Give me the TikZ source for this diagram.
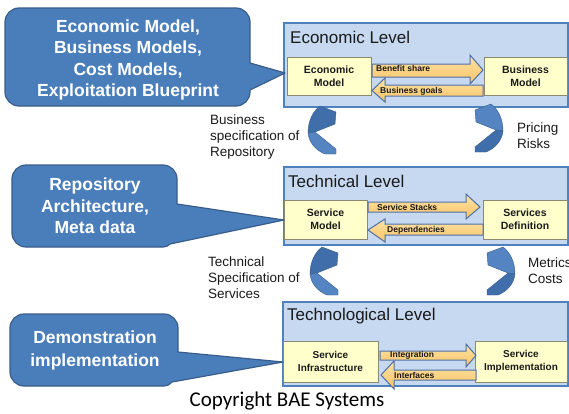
\documentclass[tikz,border=0pt]{standalone}
\usepackage{fontspec}
\setmainfont{Liberation Sans}
\newfontfamily\califont{Carlito}
\definecolor{calloutfill}{HTML}{4A7EBB}
\definecolor{calloutline}{HTML}{385D8A}
\definecolor{levelfill}{HTML}{C6D9F1}
\definecolor{levelline}{HTML}{4F81BD}
\definecolor{boxfill}{HTML}{FFFFCC}
\definecolor{boxline}{HTML}{8A8A70}
\definecolor{arrowtop}{HTML}{FDE3A8}
\definecolor{arrowbot}{HTML}{F8C363}
\definecolor{arrowline}{HTML}{4F6FA8}
\definecolor{cresA}{HTML}{3F6EAA}
\definecolor{cresB}{HTML}{5485C2}
\definecolor{labeltext}{HTML}{1A1A1A}
\tikzset{
  callout/.style={fill=calloutfill, draw=calloutline, line width=1.2pt, line join=round},
  callouttext/.style={text=white, font=\fontsize{17.5}{21.5}\selectfont\bfseries, align=center, inner sep=0pt},
  levelbox/.style={fill=levelfill, draw=levelline, line width=1.5pt, anchor=north west, inner sep=0pt},
  leveltitle/.style={font=\fontsize{17}{20}\selectfont, anchor=west, inner sep=0pt, text=labeltext},
  innerbox/.style={fill=boxfill, draw=boxline, line width=0.9pt, inner sep=0pt, align=center, text=labeltext, font=\fontsize{10.5}{13}\selectfont\bfseries},
  blockarrow/.style={top color=arrowtop, bottom color=arrowbot, draw=arrowline, line width=1pt, line join=miter},
  arrowlabel/.style={font=\fontsize{8.5}{9}\selectfont\bfseries, anchor=west, inner sep=0pt, text=labeltext},
  sidelabel/.style={font=\fontsize{13.5}{16}\selectfont, align=left, anchor=west, inner sep=0pt, text=labeltext},
  pics/crescent/.style 2 args={code={
    \fill[#1, draw=calloutline, line width=0.4pt] (14,2) .. controls (7,7) and (2,17) .. (2,29) -- (9,28) -- (29,20) -- (30,8) -- cycle;
    \fill[#2, draw=calloutline, line width=0.4pt] (2,29) -- (9,28) -- (30,45) -- (30,50) -- (19,50) .. controls (9,46) and (3,38) .. (2,29) -- cycle;
  }}
}
\begin{document}
\begin{tikzpicture}[x=1pt, y=-1pt]
\useasboundingbox (0,0) rectangle (569,413);
\fill[white] (0,0) rectangle (569,413);

% ---------- level boxes ----------
\node[levelbox, minimum width=284pt, minimum height=84pt] (L1) at (283,22) {};
\node[levelbox, minimum width=284pt, minimum height=78pt] (L2) at (283,166) {};
\node[levelbox, minimum width=285pt, minimum height=84pt] (L3) at (282,301) {};

\node[leveltitle] (t1) at (290,37) {Economic Level};
\node[leveltitle] (t2) at (288,181) {Technical Level};
\node[leveltitle] (t3) at (287,316) {Technological Level};

% ---------- inner boxes ----------
\node[innerbox, minimum width=84pt, minimum height=38pt] (em) at (329,76) {Economic\\Model};
\node[innerbox, minimum width=83pt, minimum height=38pt] (bm) at (525.5,76) {Business\\Model};
\node[innerbox, minimum width=83pt, minimum height=39pt] (sm) at (325.5,219.5) {Service\\Model};
\node[innerbox, minimum width=84pt, minimum height=39pt] (sd) at (525,219.5) {Services\\Definition};
\node[innerbox, minimum width=95pt, minimum height=41pt, font=\fontsize{10}{13}\selectfont\bfseries] (si) at (330.5,361.5) {Service\\Infrastructure};
\node[innerbox, minimum width=92pt, minimum height=41pt, font=\fontsize{10}{13}\selectfont\bfseries] (sp) at (521,361.5) {Service\\Implementation};

% ---------- block arrows ----------
\path[blockarrow] (372,64) -- (470,64) -- (470,55) -- (483,70) -- (470,84) -- (470,77) -- (372,77) -- cycle;
\path[blockarrow] (483,85) -- (385,85) -- (385,78) -- (372,90.5) -- (385,102) -- (385,96) -- (483,96) -- cycle;
\path[blockarrow] (368,202) -- (466,202) -- (466,194) -- (480,207) -- (466,219) -- (466,212) -- (368,212) -- cycle;
\path[blockarrow] (483,224) -- (385,224) -- (385,219) -- (368,230) -- (385,242) -- (385,235) -- (483,235) -- cycle;
\path[blockarrow] (380,351) -- (466,351) -- (466,344) -- (476,355.5) -- (466,367) -- (466,360) -- (380,360) -- cycle;
\path[blockarrow] (476,370) -- (394,370) -- (394,361) -- (381,375) -- (394,389) -- (394,380) -- (476,380) -- cycle;

\node[arrowlabel] (a1) at (376,68) {Benefit share};
\node[arrowlabel] (a2) at (380,91) {Business goals};
\node[arrowlabel] (a3) at (377,207) {Service Stacks};
\node[arrowlabel] (a4) at (387,230) {Dependencies};
\node[arrowlabel] (a5) at (390,355) {Integration};
\node[arrowlabel] (a6) at (394,375) {Interfaces};

% ---------- callouts ----------
\path[callout] (19,8) -- (236,8) .. controls (243.7,8) and (250,14.3) .. (250,22) -- (250,63) -- (285,73) -- (250,90) -- (250,92) .. controls (250,99.7) and (243.7,106) .. (236,106) -- (19,106) .. controls (11.3,106) and (5,99.7) .. (5,92) -- (5,22) .. controls (5,14.3) and (11.3,8) .. (19,8) -- cycle;
\path[callout] (26,165) -- (163,165) .. controls (170.7,165) and (177,171.3) .. (177,179) -- (177,204) -- (284,220) -- (170,244) .. controls (168,246) and (166,247) .. (163,247) -- (26,247) .. controls (18.3,247) and (12,240.7) .. (12,233) -- (12,179) .. controls (12,171.3) and (18.3,165) .. (26,165) -- cycle;
\path[callout] (24,314) -- (164,314) .. controls (171.7,314) and (178,320.3) .. (178,328) -- (178,352) -- (283,362) -- (172,382) .. controls (170,384.5) and (167,386) .. (164,386) -- (24,386) .. controls (16.3,386) and (10,379.7) .. (10,372) -- (10,328) .. controls (10,320.3) and (16.3,314) .. (24,314) -- cycle;

\node[callouttext] (c1) at (128,60) {Economic Model,\\Business Models,\\Cost Models,\\Exploitation Blueprint};
\node[callouttext] (c2) at (95,206) {Repository\\Architecture,\\Meta data};
\node[callouttext, font=\fontsize{17.5}{23}\selectfont\bfseries] (c3) at (95,350) {Demonstration\\implementation};

% ---------- crescents ----------
\pic at (306,104) {crescent={cresA}{cresB}};
\pic[xscale=-1] at (505,102) {crescent={cresB}{cresA}};
\pic at (308,245) {crescent={cresA}{cresB}};
\pic[xscale=-1] at (517,245) {crescent={cresB}{cresA}};

% ---------- side labels ----------
\node[sidelabel] (s1) at (210,137) {Business\\specification of\\Repository};
\node[sidelabel] (s2) at (517,136) {Pricing\\Risks};
\node[sidelabel] (s3) at (208,278) {Technical\\Specification of\\Services};
\node[sidelabel] (s4) at (528,271) {Metrics\\Costs};

% ---------- copyright ----------
\node[font=\califont\fontsize{21}{25}\selectfont, inner sep=0pt, text=black] (copy) at (287,401) {Copyright BAE Systems};
\end{tikzpicture}
\end{document}
